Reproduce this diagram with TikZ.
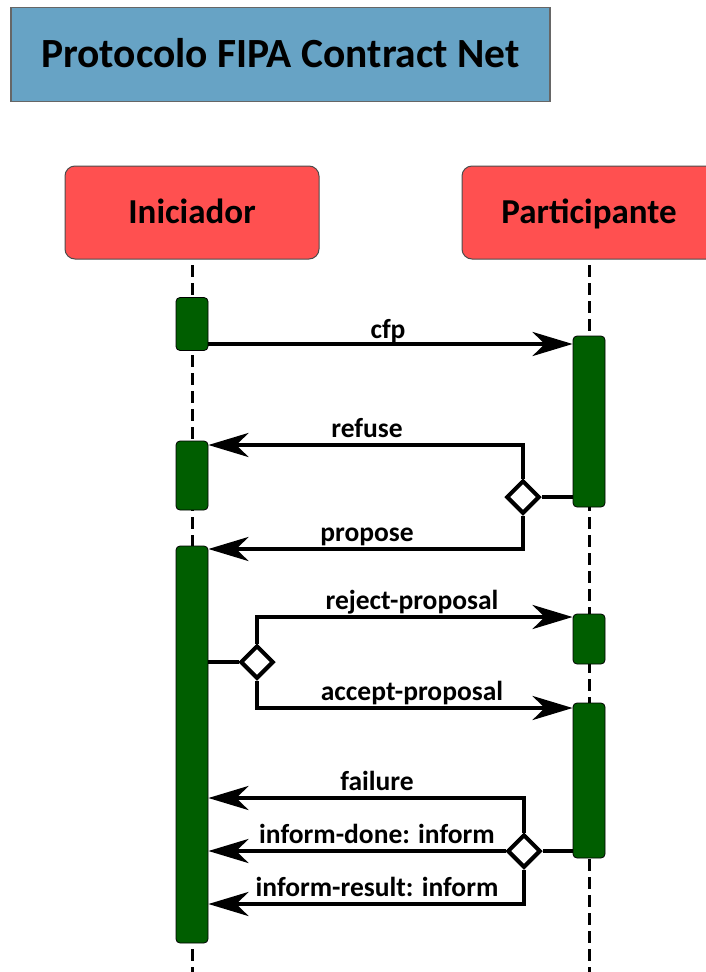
\documentclass[tikz,border=0pt]{standalone}
\usepackage{fontspec}
\setmainfont{Carlito}
\usetikzlibrary{arrows.meta,shapes.geometric}
\definecolor{titleblue}{RGB}{103,163,197}
\definecolor{rolered}{RGB}{255,80,80}
\definecolor{actgreen}{RGB}{0,94,0}
\begin{document}
\begin{tikzpicture}[x=1pt,y=-1pt,
  titlebox/.style={draw=black!60, line width=1.2pt, fill=titleblue,
    minimum width=539pt, minimum height=94pt, inner sep=0pt,
    text height=26.5pt, text depth=0pt,
    font=\fontsize{41.5}{48}\selectfont\bfseries},
  rolebox/.style={draw=black!70, line width=1pt, fill=rolered, rounded corners=10pt,
    minimum width=254pt, minimum height=93pt, inner sep=0pt,
    text height=22.4pt, text depth=0pt,
    font=\fontsize{35}{42}\selectfont\bfseries},
  lifeline/.style={line width=3pt, dash pattern=on 12pt off 6pt},
  actbar/.style={draw=black, line width=0.8pt, fill=actgreen, rounded corners=4pt,
    minimum width=32pt, inner sep=0pt},
  msg/.style={line width=4pt, -{Stealth[length=40pt,width=24pt,inset=12pt]}},
  wire/.style={line width=4pt},
  choice/.style={diamond, draw, line width=4pt, fill=white, minimum size=33pt, inner sep=0pt},
  lbl/.style={font=\fontsize{27.5}{32}\selectfont\bfseries, inner sep=0pt, anchor=base}
]
\useasboundingbox (0,0) rectangle (706,972);
\clip (0,0) rectangle (706,972);

% title
\node[titlebox] (title) at (280.5,54.5) {Protocolo FIPA Contract Net};

% roles
\node[rolebox] (ini) at (192,212.5) {Iniciador};
\node[rolebox] (par) at (589,212.5) {Participante};

% lifelines
\coordinate (iniEnd) at (192,972);
\coordinate (parEnd) at (589,972);
\draw[lifeline] (192,265) -- (iniEnd);
\draw[lifeline] (589,265) -- (parEnd);

% activation bars
\node[actbar, minimum height=53pt]  (i1) at (192,324) {};
\node[actbar, minimum height=69pt]  (i2) at (192,475.5) {};
\node[actbar, minimum height=397pt] (i3) at (192,744.5) {};
\node[actbar, minimum height=171pt] (p1) at (589,421.5) {};
\node[actbar, minimum height=50pt]  (p2) at (589,639) {};
\node[actbar, minimum height=155pt] (p3) at (589,780.5) {};

% message levels
\coordinate (yCfp) at (0,344);
\coordinate (yRefuse) at (0,445);
\coordinate (yPropose) at (0,549);
\coordinate (yReject) at (0,617);
\coordinate (yAccept) at (0,708);
\coordinate (yFailure) at (0,798);
\coordinate (yDone) at (0,851);
\coordinate (yResult) at (0,904);

% choice points
\node[choice] (d1) at (523,497) {};
\node[choice] (d2) at (257,662) {};
\node[choice] (d3) at (524,851) {};

% cfp
\draw[msg] (i1.east |- yCfp) -- (p1.west |- yCfp);
\node[lbl] (lCfp) at (388,338) {cfp};

% refuse / propose
\draw[wire] (p1.west |- d1) -- (d1.east);
\draw[msg] (d1.north) |- (i2.east |- yRefuse);
\draw[msg] (d1.south) |- (i3.east |- yPropose);
\node[lbl] (lRefuse) at (367,437) {refuse};
\node[lbl] (lPropose) at (367,541) {propose};

% reject / accept
\draw[wire] (i3.east |- d2) -- (d2.west);
\draw[msg] (d2.north) |- (p2.west |- yReject);
\draw[msg] (d2.south) |- (p3.west |- yAccept);
\node[lbl] (lReject) at (412,609) {reject-proposal};
\node[lbl] (lAccept) at (412,700) {accept-proposal};

% failure / inform
\draw[wire] (p3.west |- d3) -- (d3.east);
\draw[msg] (d3.north) |- (i3.east |- yFailure);
\draw[msg] (d3.west) -- (i3.east |- yDone);
\draw[msg] (d3.south) |- (i3.east |- yResult);
\node[lbl] (lFailure) at (377,790) {failure};
\node[lbl] (lDone) at (377,843) {inform-done: inform};
\node[lbl] (lResult) at (377,896) {inform-result: inform};

% redraw diamonds above the wires
\node[choice] at (d1) {};
\node[choice] at (d2) {};
\node[choice] at (d3) {};
\end{tikzpicture}
\end{document}
